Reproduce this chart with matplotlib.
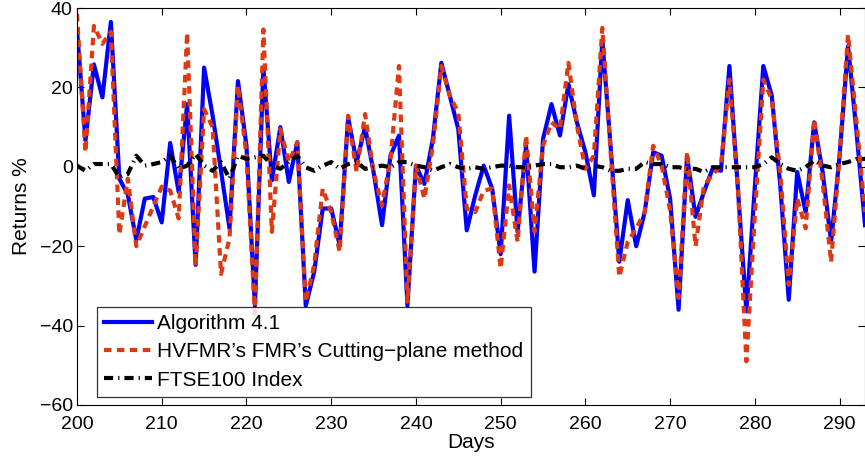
import numpy as np
import matplotlib
matplotlib.use("Agg")
import matplotlib.pyplot as plt

plt.rcParams['font.family'] = ['Liberation Sans', 'DejaVu Sans']

# Days 200..293
days = list(range(200, 294))

# Algorithm 4.1 returns (%)
algo = [34.6, 6.6, 25.8, 17.5, 36.5, -3.0, -7.0, -18.5, -8.0, -7.6,
        -14.0, 6.0, -6.3, 15.8, -24.7, 25.0, 13.0, -1.0, -15.5, 21.6,
        5.3, -35.0, 25.0, -3.4, 10.0, -3.8, 6.2, -35.0, -26.4, -10.5,
        -10.5, -19.7, 12.4, 1.2, 10.0, -1.3, -14.7, 2.8, 7.9, -35.0,
        0.3, -4.3, 7.0, 26.2, 17.9, 9.5, -16.0, -7.2, 0.3, -5.5,
        -22.0, 12.9, -16.4, 5.3, -26.4, 7.0, 15.8, 7.9, 20.8, 11.2,
        3.7, -7.2, 32.0, 4.5, -23.9, -8.4, -20.0, -11.4, 3.7, 2.8,
        -8.0, -36.0, 2.8, -12.6, -6.3, -0.5, -1.0, 25.4, -5.5, -36.4,
        -5.0, 25.4, 17.9, -4.7, -33.5, -1.3, -11.4, 11.2, -1.3, -18.9,
        2.8, 30.4, 8.7, -14.7]

# HVFMR's FMR's cutting-plane method returns (%)
cutting = [38.5, 3.7, 35.5, 31.0, 34.0, -17.0, -3.0, -20.0, -15.0, -10.0,
           -5.0, -6.0, -13.0, 33.8, -25.0, 14.5, 10.0, -27.0, -18.0, 20.4,
           3.0, -37.0, 34.6, -16.4, 9.5, 1.2, 6.2, -34.0, -24.7, -5.5,
           -11.4, -21.4, 12.9, -1.3, 13.3, -1.3, -9.7, 2.0, 25.4, -34.0,
           0.3, -8.0, 5.3, 25.4, 17.9, 13.7, -10.5, -11.4, -6.0, -5.5,
           -25.6, -4.7, -18.9, 7.9, -16.4, 5.3, 11.2, 9.5, 26.2, 10.4,
           -0.5, 2.8, 35.0, 3.0, -27.7, -18.9, -15.5, -11.4, 5.3, 0.3,
           -11.0, -33.0, 3.7, -20.0, -4.7, -2.0, 0.3, 22.0, -5.0, -49.0,
           -12.0, 22.0, 17.0, -1.5, -29.7, -8.0, -15.5, 12.0, -3.8, -24.0,
           3.0, 33.3, 11.2, -11.4]

# FTSE100 index returns (%)
ftse = [0.3, -1.0, 0.7, 0.7, 0.7, -2.6, -1.8, 2.8, 0.3, 0.7,
        1.2, 2.8, -0.5, 0.3, 3.2, 0.3, -1.0, 1.2, -3.0, 2.8,
        2.0, 2.4, 2.8, 0.3, -0.5, 1.2, 2.8, -0.1, -1.0, 0.3,
        1.2, -0.5, 0.7, 1.2, -0.5, -0.1, 0.3, -0.1, 1.2, 1.2,
        0.3, -0.1, -1.0, -0.1, 0.7, -0.1, -0.5, -0.1, -0.5, -0.1,
        0.3, 0.3, -0.1, -0.1, 0.3, 0.7, 0.7, -0.1, -0.1, 0.3,
        -0.5, 0.3, -0.1, -1.0, -1.0, -0.5, -0.5, 1.2, 0.7, 0.7,
        -0.1, -0.1, -0.5, -0.5, -1.3, -0.1, -0.1, -0.1, -0.1, -0.1,
        -0.1, 0.7, 2.4, 0.7, -0.5, -1.0, -0.1, 1.6, 0.3, -0.1,
        0.7, 1.2, 2.0, 2.0]

fig = plt.figure(figsize=(8.65, 4.61), dpi=100)
ax = fig.add_axes([0.089, 0.1215, 0.911, 0.861])

ax.plot(days, algo, color=(0, 0, 1), lw=3.0, label='Algorithm 4.1')
ax.plot(days, cutting, color='#dd3a14', lw=3.0, ls=(0, (1.8, 1.3)),
        label='HVFMR\u2019s FMR\u2019s Cutting\u2212plane method')
ax.plot(days, ftse, color='k', lw=3.0, ls=(0, (2.2, 1.2, 0.3, 1.2)),
        label='FTSE100 Index')

ax.set_xlim(200, 293)
ax.set_ylim(-60, 40)
ax.set_xticks(range(200, 291, 10))
ax.set_yticks(range(-60, 41, 20))
ax.tick_params(direction='in', top=True, right=True, labelsize=14,
               length=5)
ax.tick_params(axis='x', pad=8)
ax.tick_params(axis='y', pad=3)
ax.set_xlabel('Days', fontsize=15, labelpad=0)
ax.set_ylabel('Returns %', fontsize=15, labelpad=6)

leg = ax.legend(loc='lower left', bbox_to_anchor=(0.025, 0.02), fontsize=15,
                handlelength=2.3, frameon=True, fancybox=False,
                borderaxespad=0, borderpad=0.35, labelspacing=0.45,
                handletextpad=0.25)
leg.get_frame().set_edgecolor('k')
leg.get_frame().set_linewidth(0.9)

fig.savefig('out.png', dpi=100)
